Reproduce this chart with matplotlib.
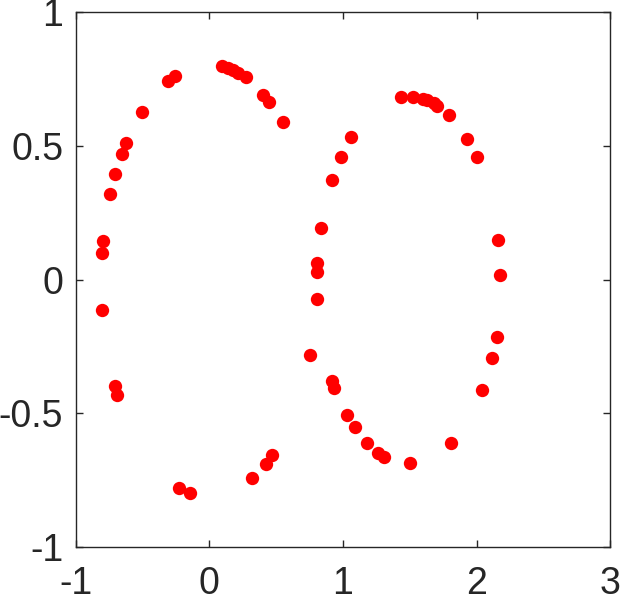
import matplotlib
matplotlib.use("Agg")
import matplotlib.pyplot as plt

x_vals = [0.092, 0.142, 0.179, 0.217, 0.272, -0.307, -0.257, -0.506, -0.624, -0.656,
          -0.706, -0.743, -0.793, -0.805, 0.405, 0.450, 0.549, 0.833, 1.058, 0.983,
          0.915, 0.803, 0.808, 0.808, 1.432, 1.526, 1.601, 1.626, 1.681, 1.701,
          1.793, 1.930, 2.000, 2.162, 2.175, -0.801, -0.706, -0.689, -0.225, -0.145,
          0.321, 0.422, 0.471, 0.753, 0.915, 0.935, 1.028, 1.090, 1.177, 1.264,
          1.309, 1.501, 1.806, 2.038, 2.113, 2.150]
y_vals = [0.800, 0.793, 0.784, 0.774, 0.757, 0.744, 0.762, 0.626, 0.512, 0.469,
          0.396, 0.319, 0.146, 0.101, 0.691, 0.666, 0.589, 0.194, 0.532, 0.460,
          0.373, 0.061, 0.030, -0.074, 0.682, 0.684, 0.676, 0.672, 0.660, 0.651,
          0.616, 0.526, 0.458, 0.148, 0.017, -0.114, -0.398, -0.431, -0.778, -0.797,
          -0.743, -0.691, -0.656, -0.282, -0.378, -0.406, -0.506, -0.552, -0.612, -0.647,
          -0.662, -0.687, -0.612, -0.413, -0.292, -0.213]

x_ticks = [-1, 0, 1, 2, 3]
y_ticks = [-1, -0.5, 0, 0.5, 1]
x_labels = ["-1", "0", "1", "2", "3"]
y_labels = ["-1", "-0.5", "0", "0.5", "1"]

plt.rcParams['font.family'] = ['Liberation Sans', 'DejaVu Sans']

fig = plt.figure(figsize=(6.21, 5.98), dpi=100)
ax = fig.add_axes([0.1219, 0.0853, 0.8609, 0.8941])
ax.plot(x_vals, y_vals, 'o', color='#ff0000', markersize=9.6, markeredgewidth=0, linestyle='none')

ax.set_xlim(-1, 3)
ax.set_ylim(-1, 1)
ax.set_xticks(x_ticks)
ax.set_xticklabels(x_labels)
ax.set_yticks(y_ticks)
ax.set_yticklabels(y_labels)

tc = '#262626'
for s in ax.spines.values():
    s.set_color(tc)
    s.set_linewidth(1.0)
ax.tick_params(direction='in', length=5, width=1.0, colors=tc, labelsize=27,
               top=True, right=True)
ax.tick_params(axis='x', pad=14)
ax.tick_params(axis='y', pad=9)

fig.savefig("out.png", dpi=100)
